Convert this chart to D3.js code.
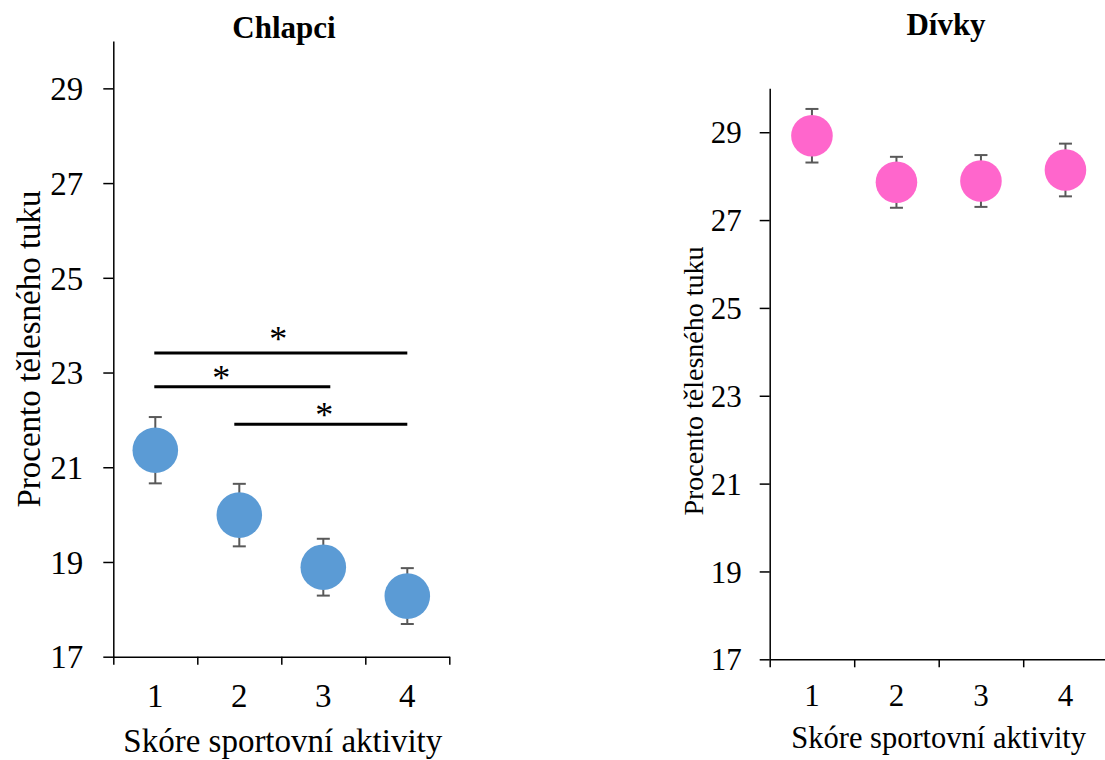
<!DOCTYPE html>
<html>
<head>
<meta charset="utf-8">
<script src="https://cdn.jsdelivr.net/npm/d3@7"></script>
<style>
  html, body { margin: 0; padding: 0; background: #fff; }
  svg text { font-family: "Liberation Serif", "Times New Roman", serif; fill: #000; }
</style>
</head>
<body>
<svg id="chart" width="1105" height="760"></svg>
<script>
// Activity score categories shared by both panels
const categories = ["1", "2", "3", "4"];
const yTicks = [17, 19, 21, 23, 25, 27, 29];

// Mean body-fat percentage and error half-widths
const boysMean = [21.36, 19.99, 18.89, 18.28];
const boysErr = [0.70, 0.66, 0.60, 0.59];
const girlsMean = [28.92, 27.86, 27.89, 28.14];
const girlsErr = [0.61, 0.58, 0.59, 0.60];

// Significant pairwise differences among boys (category indices, 1-based)
const sigFrom = [1, 1, 2];
const sigTo = [4, 3, 4];
const sigLevel = [23.41, 22.70, 21.91];
const sigStarLevel = [23.78, 22.95, 22.17];
const sigLabel = ["*", "*", "*"];

const svg = d3.select("#chart");

function panel(opt) {
  const g = svg.append("g");
  const y = d3.scaleLinear().domain([17, 30]).range([opt.bottom, opt.top]);
  const x = d3.scaleBand().domain(categories).range([opt.left, opt.right]);
  const xLin = d3.scaleLinear().domain([0, categories.length]).range([opt.left, opt.right]);

  // y axis
  const yAxis = g.append("g")
    .attr("transform", `translate(${opt.left},0)`)
    .call(d3.axisLeft(y).tickValues(yTicks).tickSize(10).tickSizeOuter(0).tickPadding(opt.yPad).tickFormat(d3.format("d")));
  yAxis.selectAll("text").style("font-size", opt.tickFont + "px").attr("dy", "0.34em");

  // x axis: boundary ticks plus centred category labels
  const xAxis = g.append("g")
    .attr("transform", `translate(0,${opt.bottom})`)
    .call(d3.axisBottom(xLin).tickValues(d3.range(0, categories.length + 1)).tickSize(8).tickSizeOuter(0).tickFormat(""));
  g.append("g")
    .attr("transform", `translate(0,${opt.bottom})`)
    .call(d3.axisBottom(x).tickSize(0).tickPadding(opt.xPad))
    .call(s => s.select(".domain").remove())
    .selectAll("text").style("font-size", opt.tickFont + "px");

  [yAxis, xAxis].forEach(a => {
    a.selectAll(".domain").attr("stroke", "#000").attr("stroke-width", 1.5);
    a.selectAll(".tick line").attr("stroke", "#000").attr("stroke-width", 1.5);
  });

  // titles
  g.append("text")
    .attr("x", opt.titleX).attr("y", opt.titleY)
    .attr("text-anchor", "middle")
    .style("font-size", "31px").style("font-weight", "bold")
    .text(opt.title);
  g.append("text")
    .attr("x", (opt.left + opt.right) / 2 + opt.xTitleShift).attr("y", opt.xTitleY)
    .attr("text-anchor", "middle")
    .style("font-size", opt.xTitleFont + "px")
    .text("Skóre sportovní aktivity");
  g.append("text")
    .attr("transform", `translate(${opt.yTitleX},${opt.yTitleY}) rotate(-90)`)
    .attr("text-anchor", "middle")
    .style("font-size", opt.yTitleFont + "px")
    .text("Procento tělesného tuku");

  // error bars
  const cx = d => x(d) + x.bandwidth() / 2;
  const err = g.append("g").attr("stroke", "#595959").attr("stroke-width", 2);
  categories.forEach((c, i) => {
    const hi = y(opt.mean[i] + opt.err[i]);
    const lo = y(opt.mean[i] - opt.err[i]);
    err.append("line").attr("x1", cx(c)).attr("x2", cx(c)).attr("y1", hi).attr("y2", lo);
    err.append("line").attr("x1", cx(c) - 6.5).attr("x2", cx(c) + 6.5).attr("y1", hi).attr("y2", hi);
    err.append("line").attr("x1", cx(c) - 6.5).attr("x2", cx(c) + 6.5).attr("y1", lo).attr("y2", lo);
  });

  // means
  g.selectAll("circle.mean")
    .data(categories)
    .join("circle")
    .attr("class", "mean")
    .attr("cx", cx)
    .attr("cy", (c, i) => y(opt.mean[i]))
    .attr("r", opt.r)
    .attr("fill", opt.color);

  return { g, x, y, cx };
}

const left = panel({
  left: 113.3, right: 449.3, top: 41, bottom: 656.7,
  mean: boysMean, err: boysErr, color: "#5B9BD5", r: 22.8,
  title: "Chlapci", titleX: 284, titleY: 38,
  tickFont: 33, yPad: 20, xPad: 27,
  xTitleFont: 33, xTitleY: 752, xTitleShift: 1.5,
  yTitleFont: 33, yTitleX: 40, yTitleY: 349
});

const right = panel({
  left: 769.7, right: 1107.7, top: 88.3, bottom: 659.3,
  mean: girlsMean, err: girlsErr, color: "#FF66CC", r: 20.8,
  title: "Dívky", titleX: 946, titleY: 35,
  tickFont: 31, yPad: 18, xPad: 25,
  xTitleFont: 30.5, xTitleY: 748, xTitleShift: 0,
  yTitleFont: 28, yTitleX: 703, yTitleY: 381
});

// significance brackets for boys
const sigStartShift = [-1, -1, -5];
const sigEndShift = [0, 7, 0];
const sigStarPos = [0.49, 0.38, 0.52];
const starFont = 36;
const sig = left.g.append("g");
sigFrom.forEach((a, i) => {
  const x1 = left.cx(categories[a - 1]) + sigStartShift[i];
  const x2 = left.cx(categories[sigTo[i] - 1]) + sigEndShift[i];
  const yy = left.y(sigLevel[i]);
  sig.append("line")
    .attr("x1", x1).attr("x2", x2)
    .attr("y1", yy).attr("y2", yy)
    .attr("stroke", "#000").attr("stroke-width", 3);
  sig.append("text")
    .attr("x", x1 + (x2 - x1) * sigStarPos[i])
    .attr("y", left.y(sigStarLevel[i]) + 0.43 * starFont)
    .attr("text-anchor", "middle")
    .style("font-size", starFont + "px")
    .text(sigLabel[i]);
});
</script>
</body>
</html>
